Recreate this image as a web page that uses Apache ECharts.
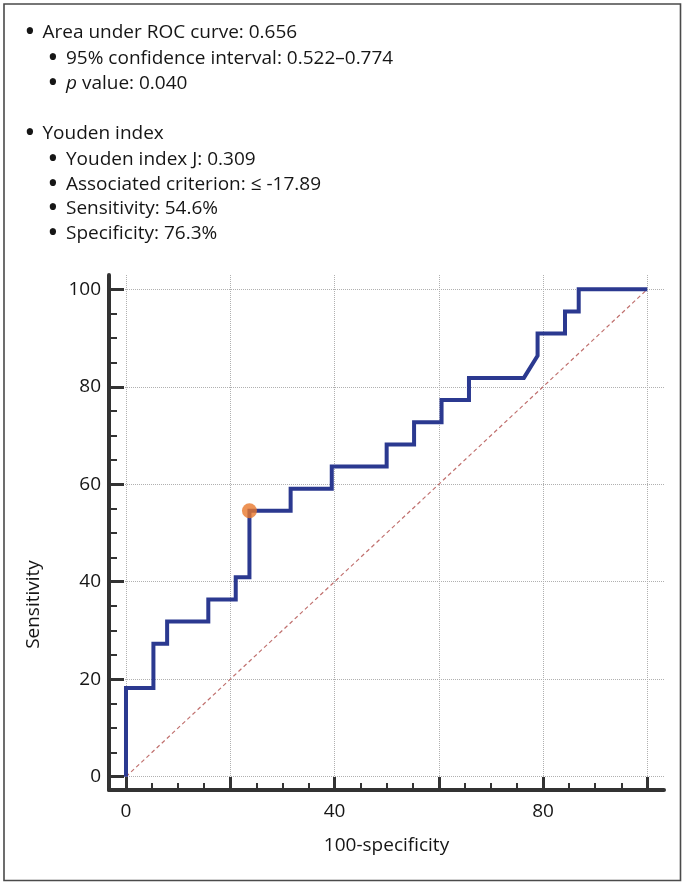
<!DOCTYPE html>
<html><head><meta charset="utf-8">
<script src="https://cdn.jsdelivr.net/npm/echarts@6/dist/echarts.min.js"></script>
<style>html,body{margin:0;padding:0;background:#fff}#c{width:685px;height:886px}</style>
</head><body><div id="c"></div>
<script>
// ROC curve (100-specificity, sensitivity)
const fpr = [0,0,5.26,5.26,7.89,7.89,15.79,15.79,21.05,21.05,23.68,23.68,31.58,31.58,39.47,39.47,50,50,55.26,55.26,60.53,60.53,65.79,65.79,76.32,78.95,78.95,84.21,84.21,86.84,86.84,100];
const tpr = [0,18.18,18.18,27.27,27.27,31.82,31.82,36.36,36.36,40.91,40.91,54.55,54.55,59.09,59.09,63.64,63.64,68.18,68.18,72.73,72.73,77.27,77.27,81.82,81.82,86.36,90.91,90.91,95.45,95.45,100,100];
const refX = [0, 100];
const refY = [0, 100];
const youdenPoint = [23.68, 54.55];
const majorTicks = [0, 20, 40, 60, 80, 100];
const minorTicks = [5,10,15,25,30,35,45,50,55,65,70,75,85,90,95];
const xTickLabels = [0, 40, 80];
const yTickLabels = [0, 20, 40, 60, 80, 100];
const infoLevels = [1, 2, 2, 1, 2, 2, 2, 2];
const infoTexts = [
  'Area under ROC curve: 0.656',
  '95% confidence interval: 0.522–0.774',
  '{i|p} value: 0.040',
  'Youden index',
  'Youden index J: 0.309',
  'Associated criterion: ≤ -17.89',
  'Sensitivity: 54.6%',
  'Specificity: 76.3%'
];

const FONT = '"Open Sans", "Noto Sans", sans-serif';
const TXT = '#161616';
const lineYs = [33, 59, 84, 134, 160, 185, 209, 234];
const graphics = [{
  type: 'rect', shape: {x: 4, y: 4, width: 676.5, height: 876.5},
  style: {fill: 'none', stroke: '#4a4a4a', lineWidth: 1.6}, silent: true
}];
infoTexts.forEach((t, i) => {
  const lvl = infoLevels[i];
  graphics.push({
    type: 'text', silent: true,
    style: {text: '•', x: lvl === 1 ? 30 : 53, y: lineYs[i] - 1, align: 'center', verticalAlign: 'middle',
      fontSize: 30, fontFamily: FONT, fill: TXT}
  });
  graphics.push({
    type: 'text', silent: true,
    style: {text: t, x: lvl === 1 ? 42.5 : 66, y: lineYs[i], align: 'left', verticalAlign: 'middle',
      fontSize: 19, fontFamily: FONT, fill: TXT,
      rich: {i: {fontStyle: 'italic', fontSize: 19, fontFamily: FONT, fill: TXT}}}
  });
});

const axisColor = '#333';
const labelStyle = {fontSize: 19, fontFamily: FONT, color: TXT};
const splitStyle = {show: true, lineStyle: {type: 'dotted', color: '#b0b0b0', width: 1}};
const XMIN = -3.26, XMAX = 103.2, YMIN = -2.73, YMAX = 102.93;

const chart = echarts.init(document.getElementById('c'), null, {renderer: 'canvas'});
chart.setOption({
  animation: false,
  backgroundColor: '#fff',
  graphic: graphics,
  grid: {left: 109, right: 21, top: 275, bottom: 96, outerBoundsMode: 'none'},
  xAxis: [{
    type: 'value', min: XMIN, max: XMAX, position: 'bottom',
    axisLine: {show: true, onZero: false, lineStyle: {color: axisColor, width: 4}},
    axisTick: {show: true, inside: true, length: 13, customValues: majorTicks, lineStyle: {color: axisColor, width: 3}},
    axisLabel: Object.assign({customValues: xTickLabels, margin: 12}, labelStyle),
    splitLine: splitStyle,
    name: '100-specificity', nameLocation: 'middle', nameGap: 46,
    nameTextStyle: {fontSize: 19, fontFamily: FONT, color: TXT}
  }, {
    type: 'value', min: XMIN, max: XMAX, position: 'bottom',
    axisLine: {show: false, onZero: false},
    axisTick: {show: true, inside: true, length: 7, customValues: minorTicks, lineStyle: {color: axisColor, width: 2}},
    axisLabel: {show: false}, splitLine: {show: false}
  }],
  yAxis: [{
    type: 'value', min: YMIN, max: YMAX, position: 'left',
    axisLine: {show: true, onZero: false, lineStyle: {color: axisColor, width: 4}},
    axisTick: {show: true, inside: true, length: 15, customValues: majorTicks, lineStyle: {color: axisColor, width: 3}},
    axisLabel: Object.assign({customValues: yTickLabels, margin: 8}, labelStyle),
    splitLine: splitStyle,
    name: 'Sensitivity', nameLocation: 'middle', nameRotate: 90, nameGap: 66,
    nameTextStyle: {fontSize: 19, fontFamily: FONT, color: TXT, padding: [0, 144, 0, 0]}
  }, {
    type: 'value', min: YMIN, max: YMAX, position: 'left',
    axisLine: {show: false, onZero: false},
    axisTick: {show: true, inside: true, length: 8, customValues: minorTicks, lineStyle: {color: axisColor, width: 2}},
    axisLabel: {show: false}, splitLine: {show: false}
  }],
  series: [{
    type: 'line', silent: true, symbol: 'none', z: 2,
    data: refX.map((x, i) => [x, refY[i]]),
    lineStyle: {color: '#c0706e', width: 1.2, type: [4, 3]}
  }, {
    type: 'line', silent: true, symbol: 'none', z: 3,
    data: fpr.map((x, i) => [x, tpr[i]]),
    lineStyle: {color: '#2b3990', width: 4, join: 'miter'}
  }, {
    type: 'scatter', silent: true, z: 4, symbolSize: 15,
    data: [youdenPoint],
    itemStyle: {color: '#e9782c'}
  }]
});
</script></body></html>
